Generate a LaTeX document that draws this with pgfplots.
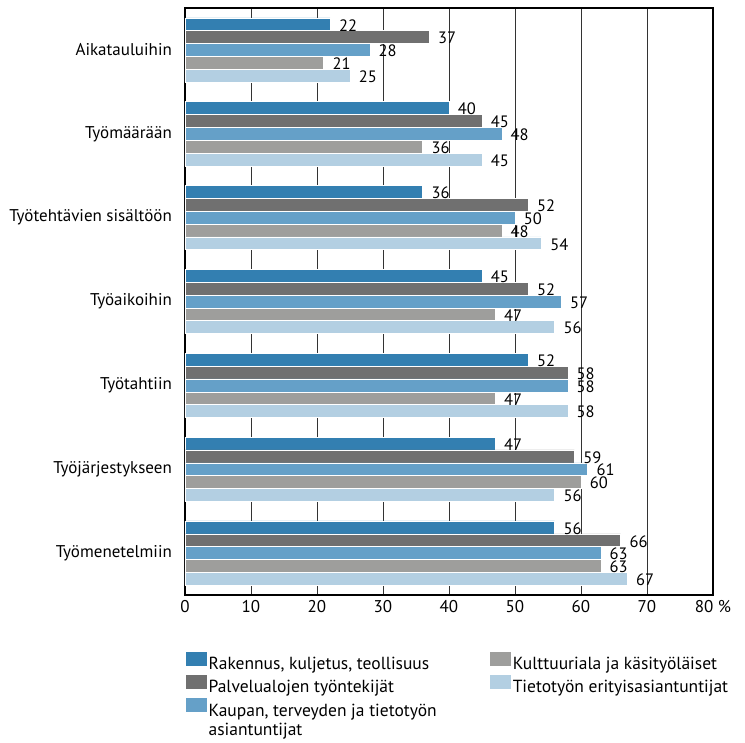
\documentclass[border=0pt]{standalone}
\usepackage{fontspec}
\setmainfont{PT Sans}
\usepackage{pgfplots}
\pgfplotsset{compat=1.18}
\definecolor{cA}{HTML}{337FB1}
\definecolor{cB}{HTML}{707070}
\definecolor{cC}{HTML}{65A0C8}
\definecolor{cD}{HTML}{9E9E9C}
\definecolor{cE}{HTML}{B3CFE2}
\begin{document}
\fontsize{17}{20}\selectfont
\begin{tikzpicture}
\useasboundingbox (-185pt,-148pt) rectangle (560pt,595pt);
\begin{axis}[
  scale only axis, width=528pt, height=587pt,
  at={(0,0)}, anchor=south west,
  xbar, xmin=0, xmax=80, ymin=-0.5, ymax=6.5, y dir=reverse,
  ytick={0,...,6},
  yticklabels={Aikatauluihin,Työmäärään,Työtehtävien sisältöön,Työaikoihin,Työtahtiin,Työjärjestykseen,Työmenetelmiin},
  xtick={0,10,...,80},
  xticklabels={0,10,20,30,40,50,60,70,80 \%},
  tick style={draw=none},
  /pgf/number format/assume math mode=true,
  ticklabel style={font=\fontsize{17}{20}\selectfont},
  yticklabel style={xshift=-3pt},
  xmajorgrids, grid style={black!80, line width=0.7pt},
  axis line style={line width=1.1pt},
  bar width=0.153,
  nodes near coords,
  every node near coord/.append style={anchor=west, xshift=3pt, yshift=-1pt, font=\fontsize{16.5}{20}\selectfont, text=black},
  legend style={at={(-0.004,-0.093)}, anchor=north west, draw=none, fill=none,
    legend columns=2, font=\fontsize{17.5}{21}\selectfont,
    nodes={inner sep=1.5pt},
    row sep=1pt,
    /tikz/every even column/.append style={column sep=52pt}},
  legend cell align=left,
  legend image code/.code={\fill[#1, draw=none] (0pt,-1pt) rectangle (21pt,13pt);},
]
\addplot[xbar, fill=cA, draw=white, line width=0.5pt, bar shift=-0.306] coordinates {(22,0) (40,1) (36,2) (45,3) (52,4) (47,5) (56,6)};
\addlegendentry{Rakennus, kuljetus, teollisuus}
\addplot[xbar, fill=cD, draw=white, line width=0.5pt, bar shift=0.153] coordinates {(21,0) (36,1) (48,2) (47,3) (47,4) (60,5) (63,6)};
\addlegendentry{Kulttuuriala ja käsityöläiset}
\addplot[xbar, fill=cB, draw=white, line width=0.5pt, bar shift=-0.153] coordinates {(37,0) (45,1) (52,2) (52,3) (58,4) (59,5) (66,6)};
\addlegendentry{Palvelualojen työntekijät}
\addplot[xbar, fill=cE, draw=white, line width=0.5pt, bar shift=0.306] coordinates {(25,0) (45,1) (54,2) (56,3) (58,4) (56,5) (67,6)};
\addlegendentry{Tietotyön erityisasiantuntijat}
\addplot[xbar, fill=cC, draw=white, line width=0.5pt, bar shift=0] coordinates {(28,0) (48,1) (50,2) (57,3) (58,4) (61,5) (63,6)};
\addlegendentry{\begin{tabular}[t]{@{}l@{}}Kaupan, terveyden ja tietotyön\\[-2pt]asiantuntijat\end{tabular}}
\end{axis}
\end{tikzpicture}
\end{document}
